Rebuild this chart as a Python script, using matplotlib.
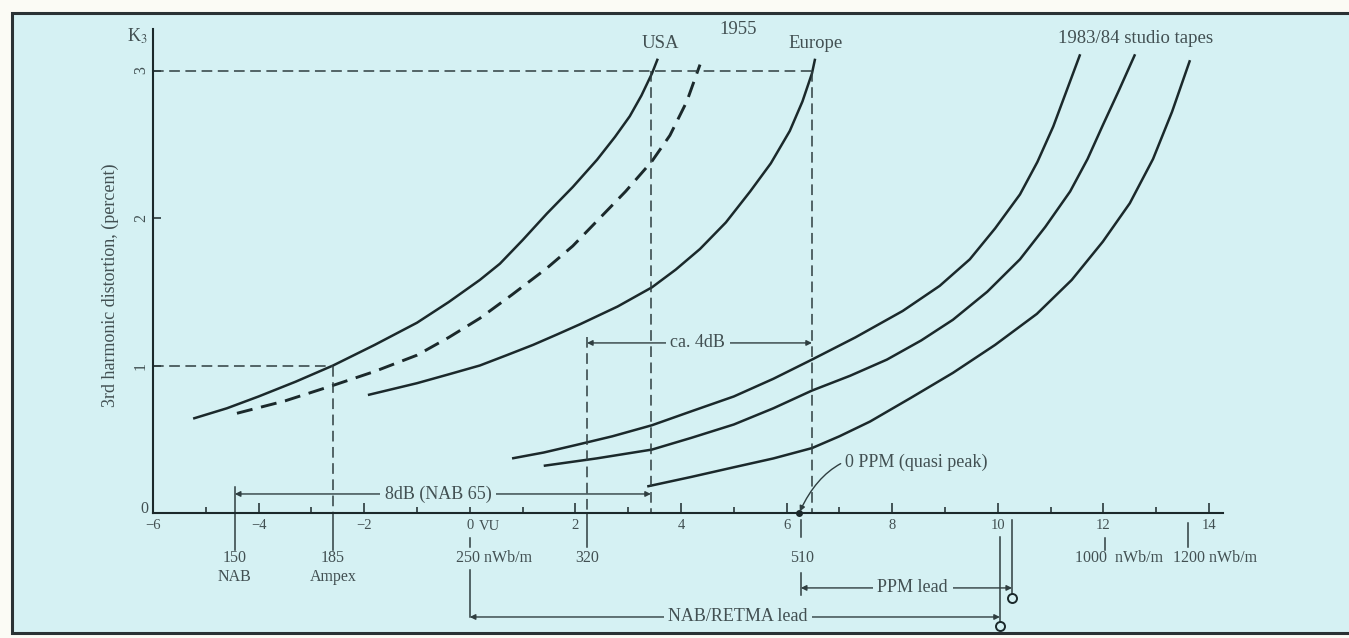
import matplotlib
matplotlib.use("Agg")
import matplotlib.pyplot as plt
from matplotlib.patches import Rectangle

# ---------------- data ----------------
usa_x = [-5.24, -4.6, -4.0, -3.3, -2.59, -1.8, -1.0, -0.4, 0.19, 0.57, 1.0, 1.46,
         1.95, 2.41, 2.75, 3.03, 3.25, 3.45, 3.56]
usa_y = [0.64, 0.71, 0.79, 0.89, 1.0, 1.14, 1.29, 1.43, 1.58, 1.69, 1.85, 2.03,
         2.21, 2.395, 2.55, 2.69, 2.83, 2.98, 3.08]

dashed_x = [-4.41, -3.5, -2.59, -1.8, -1.0, -0.4, 0.19, 0.8, 1.46, 1.95, 2.41,
            2.95, 3.45, 3.79, 4.11, 4.36]
dashed_y = [0.676, 0.76, 0.865, 0.96, 1.07, 1.19, 1.32, 1.48, 1.66, 1.81, 1.98,
            2.18, 2.385, 2.56, 2.79, 3.04]

europe_x = [-1.93, -1.0, -0.4, 0.19, 0.7, 1.2, 1.65, 2.09, 2.8, 3.45, 3.9, 4.36,
            4.85, 5.31, 5.7, 6.06, 6.3, 6.48, 6.54]
europe_y = [0.80, 0.88, 0.94, 1.0, 1.07, 1.14, 1.21, 1.28, 1.40, 1.53, 1.65, 1.79,
            1.97, 2.18, 2.37, 2.59, 2.79, 2.98, 3.08]

studio1_x = [0.80, 1.4, 2.0, 2.7, 3.45, 4.2, 5.0, 5.75, 6.48, 7.3, 8.2, 8.9, 9.47,
             9.95, 10.42, 10.75, 11.05, 11.3, 11.56]
studio1_y = [0.37, 0.41, 0.46, 0.52, 0.595, 0.69, 0.79, 0.91, 1.04, 1.19, 1.37,
             1.54, 1.72, 1.93, 2.16, 2.38, 2.62, 2.86, 3.11]

studio2_x = [1.40, 2.4, 3.45, 4.2, 5.0, 5.75, 6.48, 7.2, 7.9, 8.55, 9.15, 9.8,
             10.42, 10.9, 11.37, 11.7, 11.99, 12.3, 12.6]
studio2_y = [0.32, 0.37, 0.43, 0.51, 0.60, 0.71, 0.83, 0.93, 1.04, 1.17, 1.31,
             1.50, 1.72, 1.94, 2.18, 2.40, 2.63, 2.87, 3.11]

studio3_x = [3.36, 4.2, 5.0, 5.75, 6.48, 7.0, 7.58, 8.35, 9.15, 9.95, 10.74, 11.4,
             11.99, 12.5, 12.94, 13.3, 13.64]
studio3_y = [0.18, 0.245, 0.31, 0.37, 0.44, 0.52, 0.62, 0.78, 0.95, 1.14, 1.35,
             1.58, 1.84, 2.10, 2.40, 2.72, 3.07]

x_major = [-6, -4, -2, 0, 2, 4, 6, 8, 10, 12, 14]
x_major_labels = ["\u22126", "\u22124", "\u22122", "0", "2", "4", "6", "8", "10", "12", "14"]
x_minor = [-5, -3, -1, 1, 3, 5, 7, 9, 11, 13]
y_major = [0, 1, 2, 3]
y_major_labels = ["0", "1", "2", "3"]

# flux reference points (dB positions)
x_nab150 = -4.45
x_ampex185 = -2.59
x_320 = 2.22
x_usa = 3.43
x_510 = 6.27
x_europe = 6.48
x_retma_end = 10.04
x_ppm_end = 10.27
x_1000 = 12.03
x_1200 = 13.6

# ---------------- style ----------------
plt.rcParams["font.family"] = ["Liberation Serif", "DejaVu Serif"]
plt.rcParams["mathtext.fontset"] = "stix"

BG = "#d5f1f3"
OUT = "#fbfbf5"
LINE = "#1b292b"
DLINE = "#2f3e40"
TXT = "#425052"

W, H = 1349, 638
fig = plt.figure(figsize=(W / 100, H / 100), dpi=100, facecolor=OUT)
ax = fig.add_axes([0, 0, 1, 1])
PX0, PXS = 153, 52.8
PY0, PYS = 513, 147.5
ax.set_xlim(-6 - PX0 / PXS, -6 + (W - PX0) / PXS)
ax.set_ylim((PY0 - H) / PYS, PY0 / PYS)
ax.patch.set_visible(False)

fig.add_artist(Rectangle((12 / W, (H - 633) / H), 1.0, (633 - 13) / H,
                         transform=fig.transFigure, facecolor=BG,
                         edgecolor="#2a3234", lw=2.2, zorder=-5))

# spines as the chart axes
for s in ("top", "right"):
    ax.spines[s].set_visible(False)
ax.spines["left"].set_position(("data", -6))
ax.spines["left"].set_bounds(0, 3.28)
ax.spines["bottom"].set_position(("data", 0))
ax.spines["bottom"].set_bounds(-6, 14.27)
for s in ("left", "bottom"):
    ax.spines[s].set_color(LINE)
    ax.spines[s].set_linewidth(1.5)

ax.set_xticks(x_major)
ax.set_xticklabels(x_major_labels)
ax.set_xticks(x_minor, minor=True)
ax.tick_params(axis="x", which="major", direction="in", length=7.5, width=1.1,
               color=LINE, labelcolor=TXT, labelsize=10.5, pad=4.5)
ax.tick_params(axis="x", which="minor", direction="in", length=4.5, width=1.1,
               color=LINE)
ax.set_yticks(y_major)
ax.set_yticklabels(y_major_labels)
ax.tick_params(axis="y", which="major", direction="in", length=6, width=1.1,
               color=LINE, labelcolor=TXT, labelsize=11.5, pad=3)
ylabs = ax.get_yticklabels()
ylabs[0].set_va("baseline")
for lab in ylabs[1:]:
    lab.set_rotation(90)
    lab.set_va("center")

# ---------------- curves ----------------
kw = dict(color=LINE, lw=1.8, solid_capstyle="butt", solid_joinstyle="round")
ax.plot(usa_x, usa_y, **kw)
ax.plot(europe_x, europe_y, **kw)
ax.plot(studio1_x, studio1_y, **kw)
ax.plot(studio2_x, studio2_y, **kw)
ax.plot(studio3_x, studio3_y, **kw)
ax.plot(dashed_x, dashed_y, color=LINE, lw=2.1, linestyle=(0, (5.5, 3.0)),
        dash_capstyle="butt")

# ---------------- reference lines ----------------
dk = dict(color=DLINE, lw=1.1, linestyle=(0, (7, 3.6)))
sk = dict(color=DLINE, lw=1.1)
ax.plot([-6, x_europe], [3, 3], **dk)
ax.plot([-6, x_ampex185], [1, 1], **dk)
ax.plot([x_ampex185, x_ampex185], [1, 0], **dk)
ax.plot([x_ampex185, x_ampex185], [0, -0.25], **sk)
ax.plot([x_usa, x_usa], [3, 0], **dk)
ax.plot([x_europe, x_europe], [3, 0], **dk)
ax.plot([x_320, x_320], [1.19, 0], **dk)
ax.plot([x_320, x_320], [0, -0.23], **sk)
ax.plot([x_nab150, x_nab150], [0.176, -0.25], **sk)
ax.plot([0, 0], [-0.17, -0.23], **sk)
ax.plot([0, 0], [-0.386, -0.705], **sk)
ax.plot([x_1000, x_1000], [-0.17, -0.25], **sk)
ax.plot([x_1200, x_1200], [-0.068, -0.23], **sk)
ax.plot([x_510, x_510], [-0.047, -0.163], **sk)
ax.plot([x_510, x_510], [-0.407, -0.556], **sk)
ax.plot([x_ppm_end, x_ppm_end], [-0.047, -0.545], **sk)
ax.plot([x_retma_end, x_retma_end], [-0.163, -0.735], **sk)
ax.plot([x_ppm_end], [-0.576], "o", mfc="none", mec=LINE, ms=6.5, mew=1.4)
ax.plot([x_retma_end], [-0.766], "o", mfc="none", mec=LINE, ms=6.5, mew=1.4)


def dim_arrow(x0, x1, y, text, tx, fs=13):
    ax.annotate("", xy=(x1, y), xytext=(x0, y),
                arrowprops=dict(arrowstyle="<|-|>", color=DLINE, lw=1.0,
                                mutation_scale=8, shrinkA=0, shrinkB=0))
    ax.text(tx, y, text, ha="center", va="center", fontsize=fs, color=TXT,
            bbox=dict(boxstyle="square,pad=0.25", fc=BG, ec="none"))


dim_arrow(x_nab150, x_usa, 0.129, "8dB (NAB 65)", -0.6)
dim_arrow(x_320, x_europe, 1.153, "ca. 4dB", 4.32)
dim_arrow(x_510, x_ppm_end, -0.508, "PPM lead", 8.39)
dim_arrow(0, x_retma_end, -0.705, "NAB/RETMA lead", 5.08)

ax.annotate("0 PPM (quasi peak)", xy=(x_510 - 0.02, 0.01), xytext=(7.1, 0.345),
            ha="left", va="center", fontsize=13, color=TXT,
            arrowprops=dict(arrowstyle="-|>", connectionstyle="arc3,rad=0.45",
                            color=DLINE, lw=1.0, mutation_scale=8,
                            shrinkA=1, shrinkB=0))
ax.plot([x_510 - 0.03], [0], "o", color=LINE, ms=4)

# ---------------- texts ----------------
tk = dict(color=TXT, ha="center", va="center")
ax.text(-6.81, 1.546, "3rd harmonic distortion, (percent)", rotation=90,
        fontsize=13, **tk)
ax.text(-6.30, 3.234, "K$_3$", fontsize=13, **tk)
ax.text(3.60, 3.186, "USA", fontsize=13.5, **tk)
ax.text(5.08, 3.28, "1955", fontsize=13.5, **tk)
ax.text(6.54, 3.186, "Europe", fontsize=13.5, **tk)
ax.text(12.6, 3.214, "1983/84 studio tapes", fontsize=13.5, **tk)

ax.text(0.17, -0.094, "VU", fontsize=10.5, color=TXT, ha="left", va="center")
ax.text(x_nab150, -0.305, "150", fontsize=11.5, **tk)
ax.text(x_nab150, -0.434, "NAB", fontsize=11.5, **tk)
ax.text(x_ampex185, -0.305, "185", fontsize=11.5, **tk)
ax.text(x_ampex185, -0.434, "Ampex", fontsize=11.5, **tk)
ax.text(-0.26, -0.305, "250 nWb/m", fontsize=11.5, color=TXT, ha="left", va="center")
ax.text(x_320, -0.305, "320", fontsize=11.5, **tk)
ax.text(x_510 + 0.02, -0.305, "510", fontsize=11.5, **tk)
ax.text(12.3, -0.305, "1000  nWb/m", fontsize=11.5, **tk)
ax.text(14.11, -0.305, "1200 nWb/m", fontsize=11.5, **tk)

fig.savefig("out.png", dpi=100, facecolor=OUT)
